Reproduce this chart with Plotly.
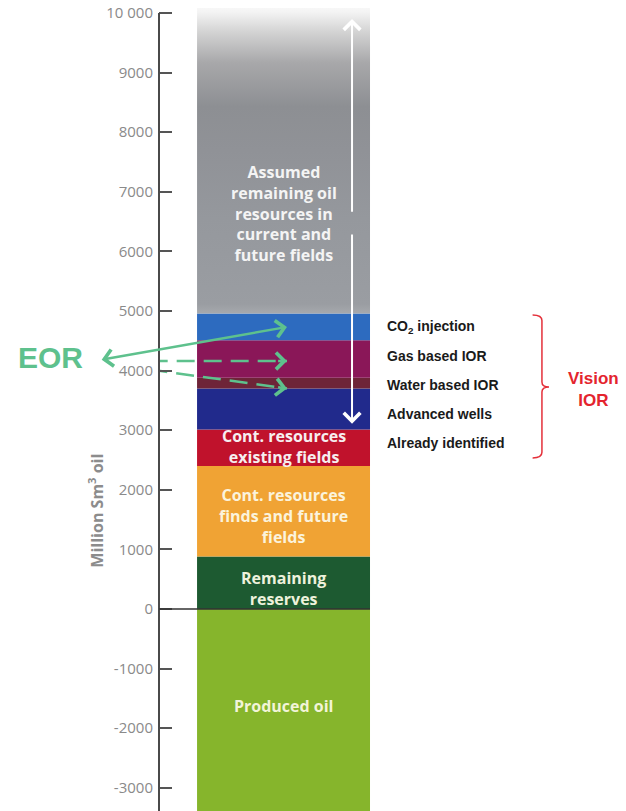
import plotly.graph_objects as go

# ---------------- data ----------------
segments = ["Produced oil", "Remaining reserves", "Cont. resources finds and future fields",
            "Already identified", "Advanced wells", "Water based IOR", "Gas based IOR",
            "CO2 injection"]
seg_bottom = [-3400, 0, 880, 2400, 3010, 3700, 3880, 4510]
seg_top = [0, 880, 2400, 3010, 3700, 3880, 4510, 4960]
seg_colors = ["#86b52c", "#1d5a31", "#f0a334", "#c0122c", "#212a8c", "#6e2438", "#8a1758", "#2d6bbf"]

assumed_bottom = 4960
assumed_top = 10220

tick_vals = [-3000, -2000, -1000, 0, 1000, 2000, 3000, 4000, 5000, 6000, 7000, 8000, 9000, 10000]
tick_text = ["-3000", "-2000", "-1000", "0", "1000", "2000", "3000", "4000", "5000",
             "6000", "7000", "8000", "9000", "10 000"]

bar_labels = ["Assumed<br>remaining oil<br>resources in<br>current and<br>future fields",
              "Cont. resources<br>existing fields",
              "Cont. resources<br>finds and future<br>fields",
              "Remaining<br>reserves",
              "Produced oil"]
bar_label_y = [6630, 2720, 1560, 340, -1630]
bar_label_colors = ["#f4f4f4", "#f6eef0", "#fbf3dc", "#eef2dc", "#f2f4d8"]

ior_labels = ["CO<sub>2</sub> injection", "Gas based IOR", "Water based IOR",
              "Advanced wells", "Already identified"]
ior_label_y = [4730, 4245, 3760, 3275, 2790]

# ---------------- figure ----------------
# page body has an 8px margin: figure is sized/shifted to compensate
fig = go.Figure()

for name, b, t, c in zip(segments, seg_bottom, seg_top, seg_colors):
    fig.add_trace(go.Bar(x=[0], y=[t - b], base=[b], width=1, marker=dict(color=c, line=dict(width=0)),
                         name=name, showlegend=False, hoverinfo="skip"))

fig.add_trace(go.Scatter(
    x=[-0.5, 0.5, 0.5, -0.5, -0.5],
    y=[assumed_bottom, assumed_bottom, assumed_top, assumed_top, assumed_bottom],
    mode="lines", line=dict(width=0), fill="toself",
    fillgradient=dict(type="vertical",
                      colorscale=[[0, "#a6a9ad"], [0.03, "#9a9da2"], [0.3, "#95989d"], [0.52, "#909297"],
                                  [0.66, "#8d8f93"], [0.8, "#a8a8aa"], [0.9, "#d4d4d4"],
                                  [0.96, "#f3f3f3"], [1, "#ffffff"]]),
    showlegend=False, hoverinfo="skip"))

annotations = []
for txt, y, c in zip(bar_labels, bar_label_y, bar_label_colors):
    annotations.append(dict(x=0, y=y, xref="x", yref="y", text=f"<b>{txt}</b>", showarrow=False,
                            font=dict(family="Open Sans", size=16, color=c), align="center"))

for txt, y in zip(ior_labels, ior_label_y):
    annotations.append(dict(x=0.587, y=y, xref="x", yref="y", text=f"<b>{txt}</b>", showarrow=False,
                            xanchor="left", font=dict(family="Liberation Sans", size=14, color="#1a1a1a")))

annotations.append(dict(x=1.79, y=3675, xref="x", yref="y", text="<b>Vision<br>IOR</b>", showarrow=False,
                        font=dict(family="Liberation Sans", size=17, color="#e4242e"), align="center"))

annotations.append(dict(x=-0.2334, y=4215, xref="paper", yref="y", text="<b>EOR</b>", showarrow=False,
                        xanchor="center", yanchor="middle",
                        font=dict(family="Liberation Sans", size=30, color="#5ec18d")))

annotations.append(dict(x=-0.135, y=1650, xref="paper", yref="y", text="<b>Million Sm<sup>3</sup> oil</b>",
                        showarrow=False, textangle=-90, xanchor="center", yanchor="middle",
                        font=dict(family="Open Sans", size=16, color="#8c8c8c")))

arrow_x = 0.396
annotations.append(dict(x=arrow_x, y=9900, ax=arrow_x, ay=6640, xref="x", yref="y", axref="x", ayref="y",
                        text="", showarrow=True, arrowhead=4, arrowsize=1.6, arrowwidth=2,
                        arrowcolor="#ffffff"))
annotations.append(dict(x=arrow_x, y=3110, ax=arrow_x, ay=6310, xref="x", yref="y", axref="x", ayref="y",
                        text="", showarrow=True, arrowhead=4, arrowsize=1.6, arrowwidth=2,
                        arrowcolor="#ffffff"))

eor_green = "#5ec18d"
annotations.append(dict(x=0.02, y=4732, ax=-1.06, ay=4178, xref="x", yref="y", axref="x", ayref="y",
                        text="", showarrow=True, arrowhead=4, startarrowhead=4, arrowside="end+start",
                        arrowsize=1.3, startarrowsize=1.3, arrowwidth=2.5, arrowcolor=eor_green))

dash_lines = [([-0.93, 0.02], [4162, 4162]), ([-0.93, 0.02], [4080, 3700])]
for xs, ys in dash_lines:
    fig.add_trace(go.Scatter(x=xs, y=ys, mode="lines",
                             line=dict(color=eor_green, width=2.5, dash="18px,9px"),
                             showlegend=False, hoverinfo="skip"))
    dx = xs[1] - xs[0]
    dy = ys[1] - ys[0]
    annotations.append(dict(x=xs[1], y=ys[1], ax=xs[1] - 0.06, ay=ys[1] - dy * 0.06 / dx,
                            xref="x", yref="y", axref="x", ayref="y", text="", showarrow=True,
                            arrowhead=4, arrowsize=1.3, arrowwidth=2.5, arrowcolor=eor_green))

shapes = [
    dict(type="line", xref="paper", yref="y", x0=0, x1=0, y0=-3500, y1=10000,
         line=dict(color="#4a4a4a", width=2)),
    dict(type="line", xref="paper", yref="y", x0=0, x1=1.22 / 2.7, y0=0, y1=0,
         line=dict(color="#333333", width=1.5)),
    dict(type="path", xref="x", yref="y",
         path="M 1.44,4935 Q 1.494,4935 1.494,4840 L 1.494,3810 Q 1.494,3725 1.535,3725 "
              "Q 1.494,3725 1.494,3640 L 1.494,2630 Q 1.494,2535 1.44,2535",
         line=dict(color="#e4303a", width=1.5)),
]

fig.update_layout(
    width=618, height=803,
    margin=dict(l=151, r=0, t=0, b=0, autoexpand=False),
    paper_bgcolor="white", plot_bgcolor="white",
    barmode="overlay",
    showlegend=False,
    xaxis=dict(range=[-0.72, 1.98], visible=False, fixedrange=True, automargin=False),
    yaxis=dict(range=[-3389, 10084], tickvals=tick_vals, ticktext=tick_text,
               ticks="inside", ticklen=13, tickwidth=2, tickcolor="#555555",
               showgrid=False, zeroline=False, showline=False, ticklabelstandoff=5,
               ticklabeloverflow="allow", automargin=False,
               tickfont=dict(family="Open Sans", size=15, color="#8a8a8a")),
    annotations=annotations,
    shapes=shapes,
)

fig.write_html("out.html")
